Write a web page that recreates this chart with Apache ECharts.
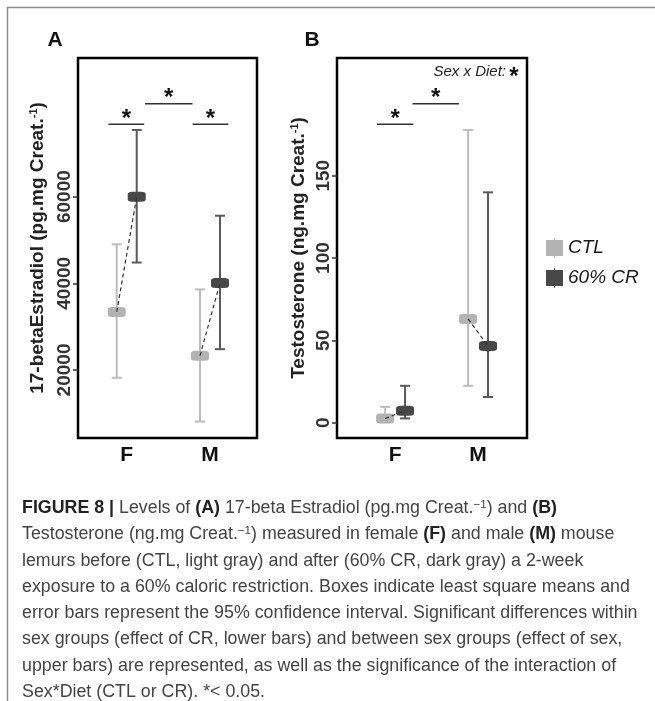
<!DOCTYPE html>
<html><head><meta charset="utf-8">
<script src="https://cdn.jsdelivr.net/npm/echarts@6/dist/echarts.min.js"></script>
<style>html,body{margin:0;padding:0;background:#fff}#c{width:655px;height:701px}</style>
</head><body><div id="c"></div>
<script>
// ---------- data ----------
const sexes = ['F', 'M'];
const groups = ['CTL', '60% CR'];
// Panel A: 17-beta Estradiol (pg.mg Creat.-1)
const e2CtlMean = [33400, 23300];
const e2CtlLow  = [18200, 8100];
const e2CtlHigh = [49000, 38600];
const e2CrMean  = [60000, 40100];
const e2CrLow   = [44800, 24800];
const e2CrHigh  = [75400, 55600];
const e2Ticks   = [20000, 40000, 60000];
// significance bars A: [xStart, xEnd, y]
const e2Sig = [[0.78, 1.21, 76700], [1.79, 2.22, 76700], [1.22, 1.79, 81450]];
// Panel B: Testosterone (ng.mg Creat.-1)
const tCtlMean = [2.5, 63];
const tCtlLow  = [0.3, 22.4];
const tCtlHigh = [9.6, 177.8];
const tCrMean  = [7.3, 46.6];
const tCrLow   = [2.6, 15.6];
const tCrHigh  = [22.4, 139.9];
const tTicks   = [0, 50, 100, 150];
const tSig = [[0.78, 1.22, 181.2], [1.21, 1.77, 193.7]];

const captionLines = [
  '{b|FIGURE 8 |} Levels of {b|(A)} 17-beta Estradiol (pg.mg Creat.{sup|\u22121}) and {b|(B)}',
  'Testosterone (ng.mg Creat.{sup|\u22121}) measured in female {b|(F)} and male {b|(M)} mouse',
  'lemurs before (CTL, light gray) and after (60% CR, dark gray) a 2-week',
  'exposure to a 60% caloric restriction. Boxes indicate least square means and',
  'error bars represent the 95% confidence interval. Significant differences within',
  'sex groups (effect of CR, lower bars) and between sex groups (effect of sex,',
  'upper bars) are represented, as well as the significance of the interaction of',
  'Sex*Diet (CTL or CR). *< 0.05.'
];

// ---------- styles ----------
const FONT = '"Liberation Sans", Arial, Helvetica, sans-serif';
const CTL_BOX = '#b3b3b3', CTL_ERR = '#bdbdbd';
const CR_BOX = '#484848', CR_ERR = '#5a5a5a';
const dodge = 0.12;
const pos = sexes.map((s, i) => i + 1);

function errRender(color) {
  return function (params, api) {
    const x = api.value(0), lo = api.value(1), hi = api.value(2);
    const a = api.coord([x, lo]), b = api.coord([x, hi]);
    const w = 5;
    const st = { stroke: color, lineWidth: 2 };
    return { type: 'group', children: [
      { type: 'line', shape: { x1: a[0], y1: a[1], x2: b[0], y2: b[1] }, style: st },
      { type: 'line', shape: { x1: b[0] - w, y1: b[1], x2: b[0] + w, y2: b[1] }, style: st },
      { type: 'line', shape: { x1: a[0] - w, y1: a[1], x2: a[0] + w, y2: a[1] }, style: st }
    ]};
  };
}
function dashRender(params, api) {
  const a = api.coord([api.value(0), api.value(1)]);
  const b = api.coord([api.value(2), api.value(3)]);
  return { type: 'line', shape: { x1: a[0], y1: a[1], x2: b[0], y2: b[1] },
    style: { stroke: '#333', lineWidth: 1.2, lineDash: [4, 3] } };
}
function sigRender(params, api) {
  const a = api.coord([api.value(0), api.value(2)]);
  const b = api.coord([api.value(1), api.value(2)]);
  return { type: 'group', children: [
    { type: 'line', shape: { x1: a[0], y1: a[1], x2: b[0], y2: b[1] }, style: { stroke: '#333', lineWidth: 1.5 } },
    { type: 'text', x: (a[0] + b[0]) / 2, y: a[1] + 7,
      style: { text: '*', fontSize: 24, fontWeight: 'bold', fontFamily: FONT, fill: '#111', align: 'center', verticalAlign: 'bottom' } }
  ]};
}

function panelSeries(gi, ctlMean, ctlLow, ctlHigh, crMean, crLow, crHigh, sig) {
  return [
    { type: 'scatter', name: groups[0], xAxisIndex: gi, yAxisIndex: gi, z: 3, silent: true,
      symbol: 'roundRect', symbolSize: [18, 10], itemStyle: { color: CTL_BOX, opacity: 1 },
      data: pos.map((p, i) => [p - dodge, ctlMean[i]]) },
    { type: 'scatter', name: groups[1], xAxisIndex: gi, yAxisIndex: gi, z: 3, silent: true,
      symbol: 'roundRect', symbolSize: [18, 10], itemStyle: { color: CR_BOX, opacity: 1 },
      data: pos.map((p, i) => [p + dodge, crMean[i]]) },
    { type: 'custom', xAxisIndex: gi, yAxisIndex: gi, z: 2, silent: true, renderItem: errRender(CTL_ERR),
      data: pos.map((p, i) => [p - dodge, ctlLow[i], ctlHigh[i]]) },
    { type: 'custom', xAxisIndex: gi, yAxisIndex: gi, z: 2, silent: true, renderItem: errRender(CR_ERR),
      data: pos.map((p, i) => [p + dodge, crLow[i], crHigh[i]]) },
    { type: 'custom', xAxisIndex: gi, yAxisIndex: gi, z: 4, silent: true, renderItem: dashRender,
      data: pos.map((p, i) => [p - dodge, ctlMean[i], p + dodge, crMean[i]]) },
    { type: 'custom', xAxisIndex: gi, yAxisIndex: gi, z: 4, silent: true, renderItem: sigRender,
      data: sig }
  ];
}

function xAxisCfg(gi, min, max) {
  return { type: 'value', gridIndex: gi, min: min, max: max,
    axisLine: { show: false }, axisTick: { show: false }, splitLine: { show: false },
    axisLabel: { customValues: pos, formatter: v => sexes[Math.round(v) - 1] || '',
      fontSize: 21, fontWeight: 'bold', color: '#111', fontFamily: FONT, margin: 7 } };
}
function yAxisCfg(gi, min, max, ticks, name, gap) {
  return { type: 'value', gridIndex: gi, min: min, max: max,
    axisLine: { show: false }, splitLine: { show: false },
    axisTick: { show: true, customValues: ticks, length: 5, lineStyle: { color: '#333', width: 1.5 } },
    axisLabel: { customValues: ticks, formatter: v => String(v), rotate: 90, fontSize: 19, fontWeight: 'bold',
      color: '#333', fontFamily: FONT, margin: 4 },
    name: name, nameLocation: 'middle', nameRotate: 90, nameGap: gap,
    nameTextStyle: { fontSize: 19, fontWeight: 'bold', color: '#222', fontFamily: FONT,
      rich: { sup: { fontSize: 11, fontWeight: 'bold', color: '#222', fontFamily: FONT, verticalAlign: 'top' } } } };
}

// caption font fitting
const cv = document.createElement('canvas').getContext('2d');
cv.font = '16px ' + FONT;
const plain5 = captionLines[4];
const capSize = Math.min(18, 16 * 616 / cv.measureText(plain5).width);

const graphics = [
  { type: 'polyline', shape: { points: [[7.5, 701], [7.5, 7.5], [655, 7.5]] }, style: { stroke: '#8c8c8c', lineWidth: 1.5, fill: null } },
  { type: 'text', x: 55, y: 40, style: { text: 'A', fontSize: 21, fontWeight: 'bold', fontFamily: FONT, fill: '#111', align: 'center', verticalAlign: 'middle' } },
  { type: 'text', x: 312, y: 40, style: { text: 'B', fontSize: 21, fontWeight: 'bold', fontFamily: FONT, fill: '#111', align: 'center', verticalAlign: 'middle' } },
  { type: 'text', x: 506, y: 72, style: { text: 'Sex x Diet:', fontSize: 15, fontStyle: 'italic', fontFamily: FONT, fill: '#222', align: 'right', verticalAlign: 'middle' } },
  { type: 'text', x: 514, y: 89, style: { text: '*', fontSize: 24, fontWeight: 'bold', fontFamily: FONT, fill: '#111', align: 'center', verticalAlign: 'bottom' } }
];
captionLines.forEach((t, i) => {
  graphics.push({ type: 'text', x: 22, y: 508 + i * 26.3, style: {
    text: t, fontSize: capSize, fontFamily: FONT, fill: '#444', align: 'left', verticalAlign: 'middle',
    rich: {
      b: { fontSize: capSize, fontWeight: 'bold', fontFamily: FONT, fill: '#222' },
      sup: { fontSize: capSize * 0.65, fontFamily: FONT, fill: '#444', verticalAlign: 'top' }
    } } });
});

const chart = echarts.init(document.getElementById('c'), null, { renderer: 'canvas' });
chart.setOption({
  animation: false,
  backgroundColor: '#fff',
  grid: [
    { left: 78, top: 58, width: 179, height: 380, show: true, borderColor: '#000', borderWidth: 2.5, containLabel: false },
    { left: 337, top: 58, width: 190, height: 380, show: true, borderColor: '#000', borderWidth: 2.5, containLabel: false }
  ],
  xAxis: [xAxisCfg(0, 0.415, 2.564), xAxisCfg(1, 0.30, 2.59)],
  yAxis: [
    yAxisCfg(0, 4300, 92000, e2Ticks, '17-betaEstradiol (pg.mg Creat.{sup|-1})', 31),
    yAxisCfg(1, -9.3, 221.5, tTicks, 'Testosterone (ng.mg Creat.{sup|-1})', 29)
  ],
  legend: {
    orient: 'vertical', left: 546, top: 238, padding: 0, itemGap: 10,
    itemWidth: 17, itemHeight: 20, selectedMode: false,
    textStyle: { fontSize: 19, fontStyle: 'italic', color: '#1a1a1a', fontFamily: FONT },
    data: groups.map(g => ({ name: g, icon: 'path://M0,2L17,2L17,18L0,18Z M8,0L9,0L9,20L8,20Z' }))
  },
  series: [].concat(
    panelSeries(0, e2CtlMean, e2CtlLow, e2CtlHigh, e2CrMean, e2CrLow, e2CrHigh, e2Sig),
    panelSeries(1, tCtlMean, tCtlLow, tCtlHigh, tCrMean, tCrLow, tCrHigh, tSig)
  ),
  graphic: graphics
});
</script>
</body></html>
